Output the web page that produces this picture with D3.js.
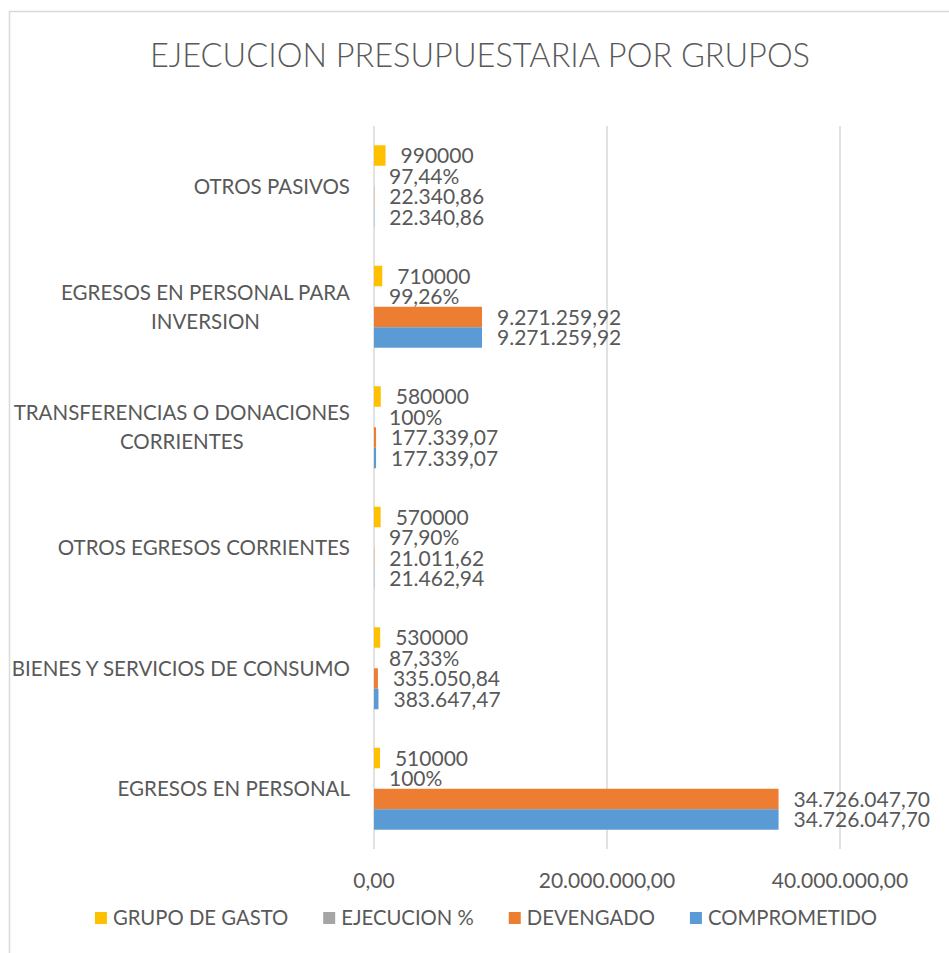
<!DOCTYPE html>
<html>
<head>
<meta charset="utf-8">
<script src="https://cdn.jsdelivr.net/npm/d3@7"></script>
<style>
  body { margin: 0; background: #fff; }
  text { font-family: Lato, "Open Sans", sans-serif; fill: #595959; }
</style>
</head>
<body>
<div id="chart"></div>
<script>
// categories top -> bottom as drawn
const categories = [
  "OTROS PASIVOS",
  "EGRESOS EN PERSONAL PARA INVERSION",
  "TRANSFERENCIAS O DONACIONES CORRIENTES",
  "OTROS EGRESOS CORRIENTES",
  "BIENES Y SERVICIOS DE CONSUMO",
  "EGRESOS EN PERSONAL"
];
const grupoGasto   = [990000, 710000, 580000, 570000, 530000, 510000];
const ejecucion    = [0.9744, 0.9926, 1, 0.9790, 0.8733, 1];
const devengado    = [22340.86, 9271259.92, 177339.07, 21011.62, 335050.84, 34726047.70];
const comprometido = [22340.86, 9271259.92, 177339.07, 21462.94, 383647.47, 34726047.70];
const seriesNames  = ["GRUPO DE GASTO", "EJECUCION %", "DEVENGADO", "COMPROMETIDO"];
const seriesColors = ["#FFC000", "#A5A5A5", "#ED7D31", "#5B9BD5"];
const xTicks = [0, 20000000, 40000000];

const width = 949, height = 953;
const es = d3.formatLocale({decimal: ",", thousands: ".", grouping: [3], currency: ["", ""]});
const money = es.format(",.2f");
const pct = es.format(".2%");

const seriesData = [grupoGasto, ejecucion, devengado, comprometido];
const labelFmt = [
  v => String(v),
  v => v === 1 ? "100%" : pct(v),
  money,
  money
];

const svg = d3.select("#chart").append("svg")
  .attr("width", width)
  .attr("height", height);

// chart frame
svg.append("rect")
  .attr("x", 9.5).attr("y", 11.5)
  .attr("width", 960).attr("height", 960)
  .attr("fill", "none")
  .attr("stroke", "#d9d9d9")
  .attr("stroke-width", 1.5);

svg.append("text")
  .attr("x", 480)
  .attr("y", 67)
  .attr("text-anchor", "middle")
  .style("font-size", "32.5px")
  .style("font-weight", 300)
  .text("EJECUCION PRESUPUESTARIA POR GRUPOS");

const x = d3.scaleLinear().domain([0, 40000000]).range([374, 840]);
const y0 = d3.scaleBand().domain(categories).range([126, 849]);
const y1 = d3.scaleBand().domain(seriesNames).range([0, y0.bandwidth()]).paddingOuter(0.94);

// gridlines
svg.append("g").selectAll("line")
  .data(xTicks)
  .join("line")
  .attr("x1", d => x(d)).attr("x2", d => x(d))
  .attr("y1", 126).attr("y2", 849)
  .attr("stroke", "#d9d9d9")
  .attr("stroke-width", 1.5);

svg.append("g").selectAll("text")
  .data(xTicks)
  .join("text")
  .attr("x", d => x(d))
  .attr("y", 881)
  .attr("dy", "0.35em")
  .attr("text-anchor", "middle")
  .style("font-size", "21px")
  .text(d => money(d));

// bars + labels
const rows = [];
categories.forEach((c, i) => {
  seriesNames.forEach((s, j) => {
    rows.push({cat: c, s: s, j: j, v: seriesData[j][i]});
  });
});

const g = svg.append("g");
g.selectAll("rect")
  .data(rows)
  .join("rect")
  .attr("x", x(0))
  .attr("y", d => y0(d.cat) + y1(d.s))
  .attr("width", d => x(d.v) - x(0))
  .attr("height", y1.bandwidth())
  .attr("fill", d => seriesColors[d.j]);

g.selectAll("text")
  .data(rows)
  .join("text")
  .attr("x", d => x(d.v) + 15)
  .attr("y", d => y0(d.cat) + y1(d.s) + y1.bandwidth() / 2)
  .attr("dy", "0.36em")
  .style("font-size", "21px")
  .text(d => labelFmt[d.j](d.v));

// category labels, wrapped like excel
const catG = svg.append("g");
categories.forEach(c => {
  const words = c.split(" ");
  const lines = [];
  let cur = [];
  const probe = catG.append("text").style("font-size", "20.5px");
  words.forEach(w => {
    const test = cur.concat(w).join(" ");
    probe.text(test);
    if (probe.node().getComputedTextLength() > 345 && cur.length) {
      lines.push(cur.join(" "));
      cur = [w];
    } else {
      cur.push(w);
    }
  });
  lines.push(cur.join(" "));
  let maxW = 0;
  lines.forEach(l => { probe.text(l); maxW = Math.max(maxW, probe.node().getComputedTextLength()); });
  probe.remove();
  const cy = y0(c) + y0.bandwidth() / 2;
  const lh = 29;
  const t = catG.append("text")
    .attr("text-anchor", "middle")
    .style("font-size", "20.5px");
  lines.forEach((l, k) => {
    t.append("tspan")
      .attr("x", 350 - maxW / 2)
      .attr("y", cy + (k - (lines.length - 1) / 2) * lh)
      .attr("dy", "0.36em")
      .text(l);
  });
});

// legend
const legend = svg.append("g");
let lx = 0;
seriesNames.forEach((s, j) => {
  const item = legend.append("g").attr("transform", `translate(${lx},0)`);
  item.append("rect")
    .attr("x", 0).attr("y", -6)
    .attr("width", 12).attr("height", 12)
    .attr("fill", seriesColors[j]);
  const t = item.append("text")
    .attr("x", 18)
    .attr("dy", "0.36em")
    .style("font-size", "20.3px")
    .text(s);
  lx += 18 + t.node().getComputedTextLength() + 35;
});
const legW = lx - 35;
legend.attr("transform", `translate(${486 - legW / 2},918)`);
</script>
</body>
</html>
